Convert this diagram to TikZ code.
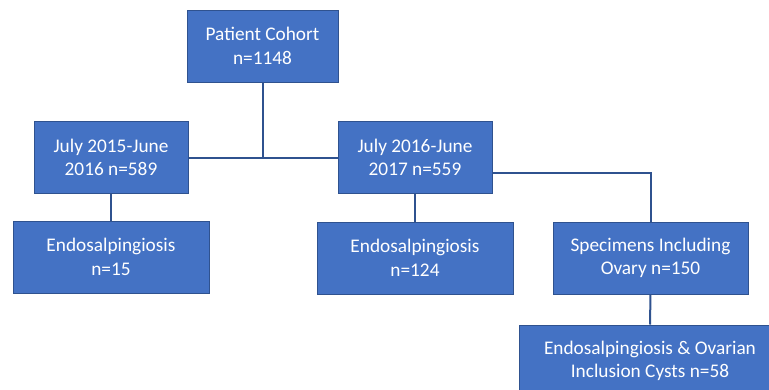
\documentclass[tikz,border=0pt]{standalone}
\usepackage{fontspec}
\setmainfont{Carlito}
\definecolor{boxfill}{HTML}{4472C4}
\definecolor{boxline}{HTML}{2F528F}
\begin{document}
\begin{tikzpicture}[x=1pt,y=-1pt,
 box/.style={draw=boxline, line width=1pt, fill=boxfill, text=white, align=center,
   font=\fontsize{19.3}{23.5}\selectfont, inner sep=0pt, minimum height=72pt},
 conn/.style={draw=boxline, line width=2pt}]
\clip (0,0) rectangle (769,389);
\fill[white] (0,0) rectangle (769,389);
\node[box, minimum width=151pt] (pc) at (262.5,46) {Patient Cohort\\n=1148};
\node[box, minimum width=154pt] (y15) at (111,157.5) {July 2015-June\\2016 n=589};
\node[box, minimum width=154pt] (y16) at (415,157.5) {July 2016-June\\2017 n=559};
\node[box, minimum width=196pt] (e15) at (111,257) {Endosalpingiosis\\n=15};
\node[box, minimum width=196pt] (e124) at (415,258) {Endosalpingiosis\\n=124};
\node[box, minimum width=195pt] (spec) at (650.5,258) {Specimens Including\\Ovary n=150};
\node[box, minimum width=262pt] (eoc) at (650,361) {Endosalpingiosis \& Ovarian\\Inclusion Cysts n=58};
\draw[conn] (y15.east) -- (y16.west);
\draw[conn] (pc.south) -- (pc.south |- y15.east);
\draw[conn] (y15.south) -- (e15.north);
\draw[conn] (y16.south) -- (e124.north);
\draw[conn] ([yshift=-15pt]y16.east) -| (spec.north);
\draw[conn] (spec.south) -- (eoc.north);
\end{tikzpicture}
\end{document}
